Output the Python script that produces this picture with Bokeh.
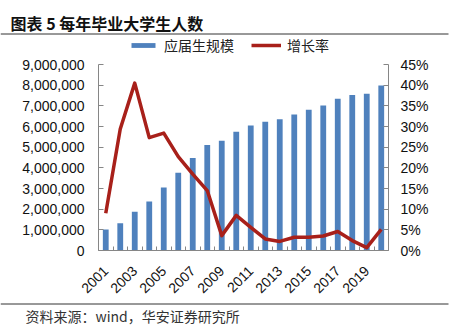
import math
from bokeh.plotting import figure
from bokeh.layouts import column
from bokeh.models import (Range1d, LinearAxis, FixedTicker, NumeralTickFormatter,
                          Legend, LegendItem, ColumnDataSource)
from bokeh.core.properties import value
from bokeh.embed import file_html
from bokeh.resources import INLINE

# ---- data ----
years = list(range(2001, 2021))
graduates = [1020000, 1320000, 1870000, 2370000, 3050000, 3760000, 4470000, 5100000,
             5310000, 5740000, 6050000, 6230000, 6350000, 6580000, 6810000, 7020000,
             7340000, 7530000, 7580000, 7980000]
growth = [0.090, 0.294, 0.405, 0.273, 0.284, 0.227, 0.185, 0.145, 0.036, 0.085,
          0.056, 0.028, 0.022, 0.032, 0.032, 0.035, 0.046, 0.024, 0.007, 0.051]
year_labels = [2001, 2003, 2005, 2007, 2009, 2011, 2013, 2015, 2017, 2019]
left_ticks = [0, 1000000, 2000000, 3000000, 4000000, 5000000, 6000000, 7000000, 8000000, 9000000]
right_ticks = [0, 0.05, 0.10, 0.15, 0.20, 0.25, 0.30, 0.35, 0.40, 0.45]
series_names = ["应届生规模", "增长率"]
title_text = ["图表 5 每年毕业大学生人数"]
source_text = ["资料来源：wind，华安证券研究所"]

BAR = "#4F81BD"
LINE = "#A8201A"
AXIS = "#868686"
RULE = "#333333"
NUM_FONT = "Liberation Sans"
CJK_FONT = "Noto Sans CJK SC"
W = 461
LINE_W = 3.5
NAN = float("nan")


def blank(h):
    f = figure(width=W, height=h, output_backend="svg", toolbar_location=None,
               x_range=Range1d(0, W), y_range=Range1d(h, 0),
               x_axis_type=None, y_axis_type=None,
               min_border=0, min_border_left=0, min_border_right=0,
               min_border_top=0, min_border_bottom=0)
    f.frame_align = False
    f.outline_line_color = None
    f.background_fill_color = "white"
    f.border_fill_color = "white"
    return f


# ---- header: title, rule and legend ----
top = blank(56)
top.text(x=[10], y=[22.5], text=title_text, text_font=value(CJK_FONT),
         text_font_style="bold", text_font_size="16px", text_baseline="middle",
         text_color="#111111")
top.segment(x0=[0], x1=[448], y0=[33.5], y1=[33.5], line_color=RULE, line_width=1)

# legend keys (no visible data) share the styles of the chart's series
key_bar = top.vbar(x=[NAN], top=[NAN], width=0.4, fill_color=BAR, line_color=None)
key_line = top.line(x=[NAN, NAN], y=[NAN, NAN], line_color=LINE, line_width=LINE_W)
legend = Legend(items=[LegendItem(label=series_names[0], renderers=[key_bar], index=0),
                       LegendItem(label=series_names[1], renderers=[key_line], index=0)],
                orientation="horizontal", location=(128, 1))
legend.padding = 0
legend.margin = 0
legend.spacing = 17
legend.label_standoff = 6
legend.glyph_width = 30
legend.glyph_height = 6
legend.label_height = 16
legend.label_text_font = CJK_FONT
legend.label_text_font_size = "14px"
legend.label_text_color = "#222222"
legend.background_fill_alpha = 0
legend.border_line_color = None
top.add_layout(legend)

# ---- main chart ----
src = ColumnDataSource(dict(year=years, grad=graduates, growth=growth))

p = figure(width=W, height=246, output_backend="svg", toolbar_location=None,
           x_range=Range1d(years[0] - 0.5, years[-1] + 0.5),
           y_range=Range1d(0, left_ticks[-1]),
           x_axis_type=None, y_axis_type=None,
           min_border_left=98, min_border_right=73, min_border_top=8, min_border_bottom=52)
p.frame_align = False
p.extra_y_ranges = {"pct": Range1d(0, right_ticks[-1])}
p.outline_line_color = None
p.background_fill_color = "white"
p.border_fill_color = "white"

bars = p.vbar(x="year", top="grad", width=0.4, source=src, fill_color=BAR, line_color=None)
line = p.line(x="year", y="growth", source=src, y_range_name="pct",
              line_color=LINE, line_width=LINE_W, line_join="round")

xaxis = LinearAxis(ticker=FixedTicker(ticks=year_labels,
                                      minor_ticks=[y - 0.5 for y in years] + [years[-1] + 0.5]))
xaxis.major_tick_in = 0
xaxis.major_tick_out = 0
xaxis.minor_tick_in = 4
xaxis.minor_tick_out = 0
xaxis.major_label_orientation = math.pi / 4
xaxis.major_label_standoff = 18
p.add_layout(xaxis, "below")

yl = LinearAxis(ticker=FixedTicker(ticks=left_ticks), formatter=NumeralTickFormatter(format="0,0"))
yl.major_tick_in = 5
yl.major_tick_out = 0
yl.major_label_standoff = 14
p.add_layout(yl, "left")

yr = LinearAxis(y_range_name="pct", ticker=FixedTicker(ticks=right_ticks),
                formatter=NumeralTickFormatter(format="0%"))
yr.major_tick_in = 5
yr.major_tick_out = 0
yr.major_label_standoff = 12
p.add_layout(yr, "right")

for ax in (xaxis, yl, yr):
    ax.axis_line_color = AXIS
    ax.major_tick_line_color = AXIS
    ax.minor_tick_line_color = AXIS if ax is xaxis else None
    ax.major_label_text_font = NUM_FONT
    ax.major_label_text_font_size = "14px"
    ax.major_label_text_color = "#111111"

# ---- footer: rule + source ----
bottom = blank(26)
bottom.segment(x0=[0], x1=[448], y0=[1.5], y1=[1.5], line_color=RULE, line_width=1)
bottom.text(x=[25], y=[13], text=source_text, text_font=value(CJK_FONT),
            text_font_size="14px", text_baseline="middle", text_color="#333333")

layout = column(top, p, bottom, spacing=0)
open("out.html", "w").write(file_html(layout, INLINE))
